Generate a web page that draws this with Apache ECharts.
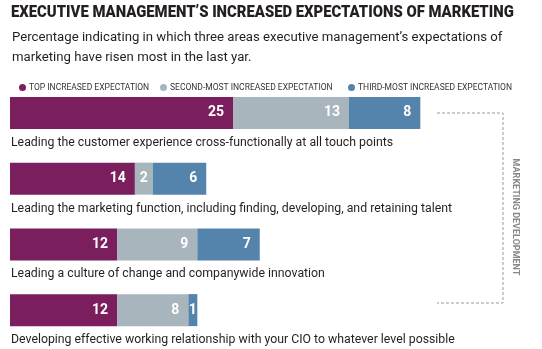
<!DOCTYPE html>
<html><head><meta charset="utf-8">
<script src="https://cdn.jsdelivr.net/npm/echarts@6/dist/echarts.min.js"></script>
<style>html,body{margin:0;padding:0;background:#fff}#c{width:542px;height:349px}</style>
</head><body><div id="c"></div>
<script>
const categories = [
  "Leading the customer experience cross-functionally at all touch points",
  "Leading the marketing function, including finding, developing, and retaining talent",
  "Leading a culture of change and companywide innovation",
  "Developing effective working relationship with your CIO to whatever level possible"
];
const seriesNames = ["TOP INCREASED EXPECTATION", "SECOND-MOST INCREASED EXPECTATION", "THIRD-MOST INCREASED EXPECTATION"];
const topValues = [25, 14, 12, 12];
const secondValues = [13, 2, 9, 8];
const thirdValues = [8, 6, 7, 1];
const colors = ["#7b1e5e", "#a9b5bd", "#5483ab"];
const titleText = "EXECUTIVE MANAGEMENT\u2019S INCREASED EXPECTATIONS OF MARKETING";
const subtitleText = "Percentage indicating in which three areas executive management\u2019s expectations of\nmarketing have risen most in the last yar.";
const bracketLabel = "MARKETING DEVELOPMENT";

const chart = echarts.init(document.getElementById('c'), null, {renderer: 'canvas'});
const FONT = 'Roboto';
function mk(name, data, i) {
  return {
    name: name, type: 'bar', stack: 'total', barWidth: 32,
    data: data.map(v => v <= 2 ? {value: v, label: {position: 'inside'}} : v),
    itemStyle: {color: colors[i]},
    label: {show: true, position: 'insideRight', distance: 9, color: '#fff',
      fontFamily: FONT, fontWeight: 'bold', fontSize: 14},
    emphasis: {disabled: true}
  };
}
const legendLefts = [14, 155, 343];
chart.setOption({
  animation: false,
  title: [
    {text: subtitleText, left: 7, top: 23, textStyle: {fontFamily: FONT, fontWeight: 'normal', fontSize: 13.2, lineHeight: 20, color: '#231f20'}}
  ],
  legend: seriesNames.map((n, i) => ({
    data: [n], left: legendLefts[i], top: 78, icon: 'circle', itemWidth: 7, itemHeight: 7, itemGap: 0,
    textStyle: {fontFamily: FONT, fontSize: 8.5, color: '#333', padding: [0,0,0,-2]}
  })),
  grid: {left: 10, right: 86, top: 80, bottom: 6, containLabel: false},
  xAxis: {type: 'value', min: 0, max: 50, show: false},
  yAxis: {
    type: 'category', data: categories, inverse: true,
    axisLine: {show: false}, axisTick: {show: false},
    axisLabel: {inside: true, margin: 1, verticalAlign: 'top', padding: [24,0,0,0],
      fontFamily: FONT, fontSize: 12.3, color: '#231f20'}
  },
  series: [mk(seriesNames[0], topValues, 0), mk(seriesNames[1], secondValues, 1), mk(seriesNames[2], thirdValues, 2)],
  graphic: [
    {type: 'text', x: 11, y: 13, scaleX: 0.9,
      style: {text: titleText, fontFamily: FONT, fontWeight: 900, fontSize: 16.5, fill: '#231f20', verticalAlign: 'middle'}},
    {type: 'polyline', shape: {points: [[437,113],[503,113],[503,303],[437,303]]},
      style: {stroke: '#999', lineWidth: 1, lineDash: [3,2], fill: null}},
    {type: 'text', x: 515, y: 217, rotation: -Math.PI/2,
      style: {text: bracketLabel, fontFamily: FONT, fontWeight: 'bold', fontSize: 9, fill: '#888',
        align: 'center', verticalAlign: 'middle'}}
  ]
});
</script></body></html>
